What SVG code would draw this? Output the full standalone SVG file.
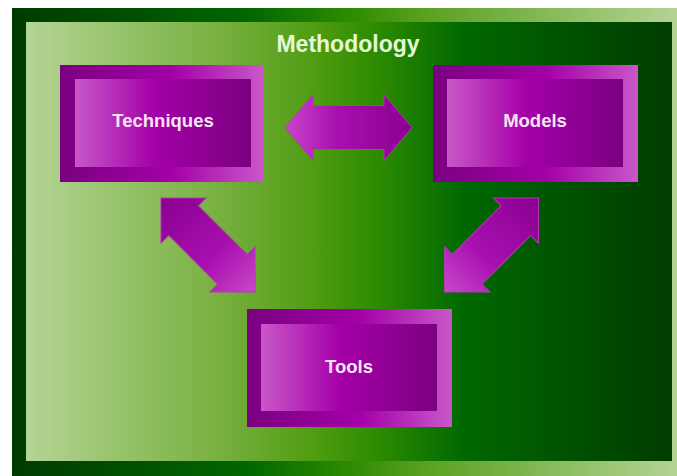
<svg xmlns="http://www.w3.org/2000/svg" width="677" height="476" viewBox="0 0 677 476">
  <defs>
    <linearGradient id="gOuter" x1="0" y1="0" x2="1" y2="0">
      <stop offset="0" stop-color="#003a00"/>
      <stop offset="0.35" stop-color="#006600"/>
      <stop offset="0.5" stop-color="#2a8a00"/>
      <stop offset="0.62" stop-color="#5aa020"/>
      <stop offset="1" stop-color="#b4d494"/>
    </linearGradient>
    <linearGradient id="gInner" x1="0" y1="0" x2="1" y2="0">
      <stop offset="0" stop-color="#b4d494"/>
      <stop offset="0.3" stop-color="#78b040"/>
      <stop offset="0.45" stop-color="#4e9c10"/>
      <stop offset="0.55" stop-color="#2a8a00"/>
      <stop offset="0.68" stop-color="#006800"/>
      <stop offset="1" stop-color="#003c00"/>
    </linearGradient>
    <linearGradient id="gBoxOuter" x1="0" y1="0" x2="1" y2="0">
      <stop offset="0" stop-color="#7a0080"/>
      <stop offset="0.55" stop-color="#a400a8"/>
      <stop offset="1" stop-color="#c858c8"/>
    </linearGradient>
    <linearGradient id="gBoxInner" x1="0" y1="0" x2="1" y2="0">
      <stop offset="0" stop-color="#c858c8"/>
      <stop offset="0.45" stop-color="#a400a8"/>
      <stop offset="1" stop-color="#7a0080"/>
    </linearGradient>
    <linearGradient id="gArrowDL" x1="0" y1="0" x2="1" y2="0">
      <stop offset="0" stop-color="#8a0090"/>
      <stop offset="0.6" stop-color="#a810b0"/>
      <stop offset="1" stop-color="#c848c8"/>
    </linearGradient>
    <linearGradient id="gArrowLD" x1="0" y1="0" x2="1" y2="0">
      <stop offset="0" stop-color="#c848c8"/>
      <stop offset="0.4" stop-color="#a810b0"/>
      <stop offset="1" stop-color="#8a0090"/>
    </linearGradient>
  </defs>
  <style>
    .label { font-family: "Liberation Sans", Arial, sans-serif; font-weight: bold; text-anchor: middle; }
    .node-label { font-size: 18.5px; fill: #f8e4f8; }
    .title { font-size: 23px; fill: #e6f8d6; }
    .box-outer { fill: url(#gBoxOuter); }
    .box-inner { fill: url(#gBoxInner); }
    .arrow { stroke: #b438b8; stroke-width: 1; stroke-linejoin: miter; }
  </style>

  <rect x="0" y="0" width="677" height="476" fill="#ffffff"/>
  <g id="frame">
    <rect x="12" y="8" width="665" height="468" fill="url(#gOuter)"/>
    <rect x="26" y="22" width="646" height="439" fill="url(#gInner)"/>
    <text class="label title" x="348" y="52">Methodology</text>
  </g>

  <g id="techniques">
    <rect class="box-outer" x="60" y="65" width="203" height="117"/>
    <rect class="box-inner" x="75" y="79" width="176" height="88"/>
    <text class="label node-label" x="163" y="127">Techniques</text>
  </g>

  <g id="models">
    <rect class="box-outer" x="433" y="65" width="205" height="117"/>
    <rect class="box-inner" x="447" y="79" width="176" height="88"/>
    <text class="label node-label" x="535" y="127">Models</text>
  </g>

  <g id="tools">
    <rect class="box-outer" x="247" y="309" width="205" height="118"/>
    <rect class="box-inner" x="261" y="324" width="176" height="87"/>
    <text class="label node-label" x="349" y="373">Tools</text>
  </g>

  <g id="connectors">
    <path class="arrow" fill="url(#gArrowLD)" transform="translate(348.5,127.5)"
          d="M-63.5,0 L-35.5,-33 L-35.5,-22 L35.5,-22 L35.5,-33 L63.5,0 L35.5,33 L35.5,22 L-35.5,22 L-35.5,33 Z"/>
    <path class="arrow" fill="url(#gArrowDL)" transform="translate(208,245) rotate(45)"
          d="M-66.5,0 L-34.5,-32 L-34.5,-21 L34.5,-21 L34.5,-32 L66.5,0 L34.5,32 L34.5,21 L-34.5,21 L-34.5,32 Z"/>
    <path class="arrow" fill="url(#gArrowLD)" transform="translate(491.5,245) rotate(-45)"
          d="M-66.5,0 L-34.5,-32 L-34.5,-21 L34.5,-21 L34.5,-32 L66.5,0 L34.5,32 L34.5,21 L-34.5,21 L-34.5,32 Z"/>
  </g>
</svg>
